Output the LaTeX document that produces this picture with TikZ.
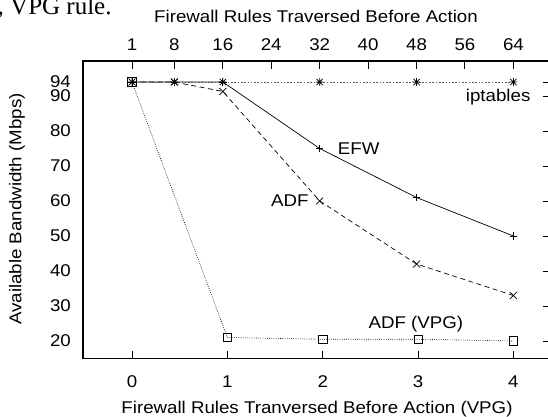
\documentclass[tikz,border=0pt]{standalone}
\usepackage{fontspec}
\setmainfont{Liberation Sans}[FakeStretch=1.1]
\newfontfamily\fragfont{Liberation Serif}
\usetikzlibrary{calc, positioning}

\tikzset{
  frame/.style={line width=1.2pt},
  tick/.style={line width=1pt},
  mkline/.style={line width=0.7pt},
  efwline/.style={line width=0.7pt},
  adfline/.style={line width=0.7pt, dash pattern=on 5pt off 3.5pt},
  iptline/.style={line width=0.8pt, black!65, dash pattern=on 1.6pt off 1.7pt},
  vpgline/.style={line width=0.6pt, dash pattern=on 0.8pt off 1.4pt},
  plusmk/.pic={\draw[mkline] (-3.8pt,0pt) -- (3.8pt,0pt) (0pt,-3.8pt) -- (0pt,3.8pt);},
  crossmk/.pic={\draw[mkline] (-3.5pt,-3.5pt) -- (3.5pt,3.5pt) (-3.5pt,3.5pt) -- (3.5pt,-3.5pt);},
  starmk/.pic={\draw[mkline] (-3.8pt,0pt) -- (3.8pt,0pt) (0pt,-3.8pt) -- (0pt,3.8pt)
    (-3.2pt,-3.2pt) -- (3.2pt,3.2pt) (-3.2pt,3.2pt) -- (3.2pt,-3.2pt);},
  squaremk/.pic={\draw[mkline] (-4.2pt,-4.2pt) rectangle (4.2pt,4.2pt);}
}

\begin{document}
\begin{tikzpicture}[x=1pt, y=1pt, inner sep=0pt, font=\fontsize{17}{20}\selectfont]
  \useasboundingbox (0,0) rectangle (548,416);
  \node[anchor=base west, font=\fragfont\fontsize{25}{29}\selectfont] (frag) at (-2.5,401) {, VPG rule.};

  \begin{scope}[shift={(132pt,5pt)}, x=95.35pt, y=3.5pt]
    \draw[frame] (-0.514,15) rectangle (4.384,100);

    % axes
    \foreach \v in {0,...,4} {
      \draw[tick] (\v,15) -- ++(0pt,7.5pt);
      \node[yshift=-23.5pt] (bx\v) at (\v,15) {\v};
    }
    \foreach \n in {1,8,16,24,32,40,48,56,64} {
      \draw[tick] ({(\n-1)*4/63},100) -- ++(0pt,-7.5pt);
      \node[yshift=16pt] (tx\n) at ({(\n-1)*4/63},100) {\n};
    }
    \foreach \y in {20,30,40,50,60,70,80,90,94} {
      \draw[tick] (4.384,\y) -- ++(-7pt,0pt);
      \node[anchor=east, xshift=-61pt] (ly\y) at (0,\y) {\y};
    }

    % data
    \foreach \n/\b [count=\i] in {1/94,8/94,16/94,32/94,48/94,64/94}
      \coordinate (ipt\i) at ({(\n-1)*4/63},\b);
    \foreach \n/\b [count=\i] in {1/94,8/94,16/94,32/75,48/61,64/50}
      \coordinate (efw\i) at ({(\n-1)*4/63},\b);
    \foreach \n/\b [count=\i] in {1/94,8/94,16/91.3,32/60,48/42,64/33}
      \coordinate (adf\i) at ({(\n-1)*4/63},\b);
    \foreach \v/\b in {0/94,1/21,2/20.5,3/20.5,4/20}
      \coordinate (vpg\v) at (\v,\b);

    \draw[efwline] (efw1) -- (efw2) -- (efw3) -- (efw4) -- (efw5) -- (efw6);
    \draw[adfline] (adf1) -- (adf2) -- (adf3) -- (adf4) -- (adf5) -- (adf6);
    \draw[iptline] (ipt1) -- (ipt2) -- (ipt3) -- (ipt4) -- (ipt5) -- (ipt6);
    \draw[vpgline] (vpg0) -- (vpg1) -- (vpg2) -- (vpg3) -- (vpg4);

    \foreach \i in {1,...,6} {
      \pic at (efw\i) {plusmk};
      \pic at (adf\i) {crossmk};
      \pic at (ipt\i) {starmk};
    }
    \foreach \v in {0,...,4}
      \pic at (vpg\v) {squaremk};

    % curve labels
    \node[anchor=east] (iptlbl) at (4.18,89.6) {iptables};
    \node[right=18pt of efw4] (efwlbl) {EFW};
    \node[left=11pt of adf4] (adflbl) {ADF};
    \node (vpglbl) at (2.977,24.7) {ADF (VPG)};
  \end{scope}

  \node (toptitle) at (316,400) {Firewall Rules Traversed Before Action};
  \node (bottitle) at (317,7) {Firewall Rules Tranversed Before Action (VPG)};
  \node[rotate=90] (ytitle) at (17,207) {Available Bandwidth (Mbps)};
\end{tikzpicture}
\end{document}
